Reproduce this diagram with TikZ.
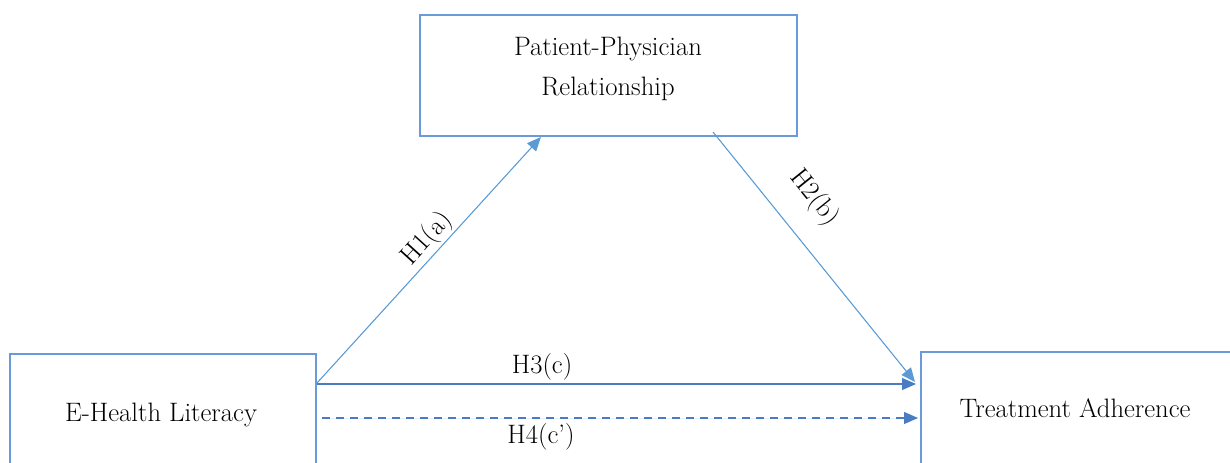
\documentclass[tikz,border=0pt]{standalone}
\usetikzlibrary{arrows.meta,fit}
\definecolor{boxblue}{HTML}{6A9BD8}
\definecolor{lightarrow}{HTML}{5B9BD5}
\definecolor{darkarrow}{HTML}{4A7CC4}
\tikzset{
  box/.style={draw=boxblue, line width=0.9pt, inner sep=0pt},
  lbl/.style={font=\fontsize{20}{24}\selectfont, inner sep=0pt},
  conn/.style={line width=0.8pt, -{Triangle[length=10.5pt,width=9pt]}},
}
\begin{document}
\begin{tikzpicture}[x=0.75pt,y=-0.75pt]
\useasboundingbox (0,0) rectangle (1230,463);
% boxes
\node[box, fit={(420,15)(797,136)}] (ppr) {};
\node[box, fit={(10,354)(316,520)}] (ehl) {};
\node[box, fit={(921,352)(1260,520)}] (ta) {};
% box texts
\node[lbl, anchor=base] (t1) at (608,56) {Patient-Physician};
\node[lbl, anchor=base] (t2) at (608,96) {Relationship};
\node[lbl, anchor=base] (t3) at (161,421) {E-Health Literacy};
\node[lbl, anchor=base] (t4) at (1075,417) {Treatment Adherence};
% connector end points
\coordinate (h1s) at (317,383);
\coordinate (h1e) at (541,137);
\coordinate (h2s) at (713,132);
\coordinate (h2e) at (915,382);
\coordinate (h3s) at (317,384);
\coordinate (h3e) at (916,384);
\coordinate (h4s) at (322,418);
\coordinate (h4e) at (918,418);
% connectors
\draw[conn, draw=lightarrow, fill=lightarrow] (h1s) -- (h1e);
\draw[conn, draw=lightarrow, fill=lightarrow] (h2s) -- (h2e);
\draw[conn, draw=darkarrow, fill=darkarrow] (h3s) -- (h3e);
\draw[conn, draw=darkarrow, fill=darkarrow, dash pattern=on 6pt off 4.5pt] (h4s) -- (h4e);
% labels
\node[lbl, rotate=47.7] (l1) at (427,239) {H1(a)};
\node[lbl, rotate=-51.2] (l2) at (814,198) {H2(b)};
\node[lbl] (l3) at (542,367) {H3(c)};
\node[lbl] (l4) at (541,437) {H4(c')};
\end{tikzpicture}
\end{document}
